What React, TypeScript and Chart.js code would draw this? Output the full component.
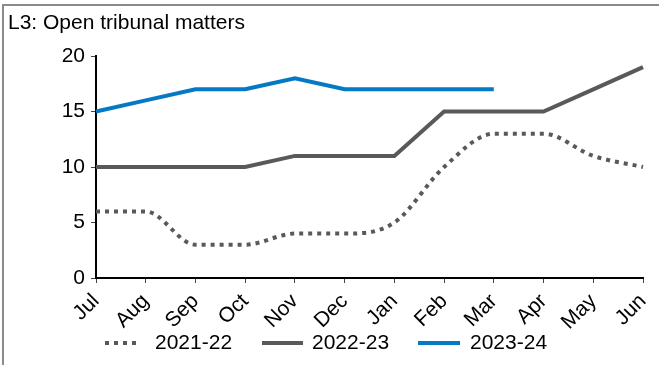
import React, { useEffect, useRef } from "react";
import { Chart, registerables } from "chart.js";

Chart.register(...registerables);

const TITLE = "L3: Open tribunal matters";
const MONTHS = ["Jul", "Aug", "Sep", "Oct", "Nov", "Dec", "Jan", "Feb", "Mar", "Apr", "May", "Jun"];
const S2021_22 = [6, 6, 3, 3, 4, 4, 5, 10, 13, 13, 11, 10];
const S2022_23 = [10, 10, 10, 10, 11, 11, 11, 15, 15, 15, 17, 19];
const S2023_24 = [15, 16, 17, 17, 18, 17, 17, 17, 17, null, null, null];
const SERIES_NAMES = ["2021-22", "2022-23", "2023-24"];
const Y_MIN = 0;
const Y_MAX = 20;
const Y_STEP = 5;

const GRAY = "#58595B";
const BLUE = "#0479C4";
const FONT = "'Liberation Sans', Arial, sans-serif";
const FS = 21;

const decorPlugin = {
  id: "decor",
  afterDraw(chart: any) {
    const ctx = chart.ctx;
    ctx.save();
    // frame (left and top)
    ctx.strokeStyle = "#8a8a8a";
    ctx.lineWidth = 2;
    ctx.beginPath();
    ctx.moveTo(3, 365);
    ctx.lineTo(3, 5);
    ctx.lineTo(659, 5);
    ctx.stroke();
    // title
    ctx.fillStyle = "#000";
    ctx.font = `${FS}px ${FONT}`;
    ctx.textAlign = "left";
    ctx.textBaseline = "middle";
    ctx.fillText(TITLE, 8, 23);
    // legend
    const items = [
      { x: 105, w: 36, tx: 155, color: GRAY, dash: [4, 5] },
      { x: 262, w: 41, tx: 312, color: GRAY, dash: [] },
      { x: 418, w: 42, tx: 470, color: BLUE, dash: [] },
    ];
    const ly = 343;
    items.forEach((it, i) => {
      ctx.strokeStyle = it.color;
      ctx.lineWidth = 4;
      ctx.lineCap = "butt";
      ctx.setLineDash(it.dash);
      ctx.beginPath();
      ctx.moveTo(it.x, ly);
      ctx.lineTo(it.x + it.w, ly);
      ctx.stroke();
      ctx.setLineDash([]);
      ctx.fillStyle = "#000";
      ctx.fillText(SERIES_NAMES[i], it.tx, ly);
    });
    ctx.restore();
  },
};

export default function App() {
  const ref = useRef<HTMLCanvasElement | null>(null);
  useEffect(() => {
    if (!ref.current) return;
    const chart = new Chart(ref.current, {
      type: "line",
      data: {
        labels: MONTHS,
        datasets: [
          {
            label: SERIES_NAMES[0],
            data: S2021_22,
            borderColor: GRAY,
            borderWidth: 4,
            borderDash: [4, 5],
            borderCapStyle: "butt",
            pointRadius: 0,
            cubicInterpolationMode: "monotone",
          },
          {
            label: SERIES_NAMES[1],
            data: S2022_23,
            borderColor: GRAY,
            borderWidth: 4,
            pointRadius: 0,
            tension: 0,
          },
          {
            label: SERIES_NAMES[2],
            data: S2023_24,
            borderColor: BLUE,
            borderWidth: 4,
            pointRadius: 0,
            tension: 0,
          },
        ],
      },
      options: {
        animation: false,
        responsive: false,
        devicePixelRatio: 1,
        layout: { padding: { top: 56, right: 16, left: 0, bottom: 0 } },
        plugins: {
          legend: { display: false },
          title: { display: false },
          tooltip: { enabled: false },
        },
        scales: {
          x: {
            offset: false,
            afterFit: (s: any) => {
              s.height = 87;
              s.paddingLeft = 0;
              s.paddingRight = 0;
            },
            grid: {
              display: true,
              drawOnChartArea: false,
              drawTicks: true,
              tickLength: 5,
              tickColor: "#444",
            },
            border: { color: "#000", width: 2 },
            ticks: {
              color: "#000",
              font: { family: FONT, size: FS },
              minRotation: 45,
              maxRotation: 45,
              autoSkip: false,
              padding: 6,
            },
          },
          y: {
            min: Y_MIN,
            max: Y_MAX,
            afterFit: (s: any) => {
              s.width = 96;
              s.paddingTop = 0;
              s.paddingBottom = 0;
            },
            grid: {
              display: true,
              drawOnChartArea: false,
              drawTicks: true,
              tickLength: 5,
              tickColor: "#444",
            },
            border: { color: "#000", width: 2 },
            ticks: {
              stepSize: Y_STEP,
              color: "#000",
              font: { family: FONT, size: FS },
              padding: 6,
            },
          },
        },
      },
      plugins: [decorPlugin],
    });
    return () => chart.destroy();
  }, []);
  return (
    <div style={{ position: "fixed", left: 0, top: 0, width: 659, height: 365, background: "#fff" }}>
      <canvas ref={ref} width={659} height={365} style={{ display: "block", width: 659, height: 365 }} />
    </div>
  );
}
